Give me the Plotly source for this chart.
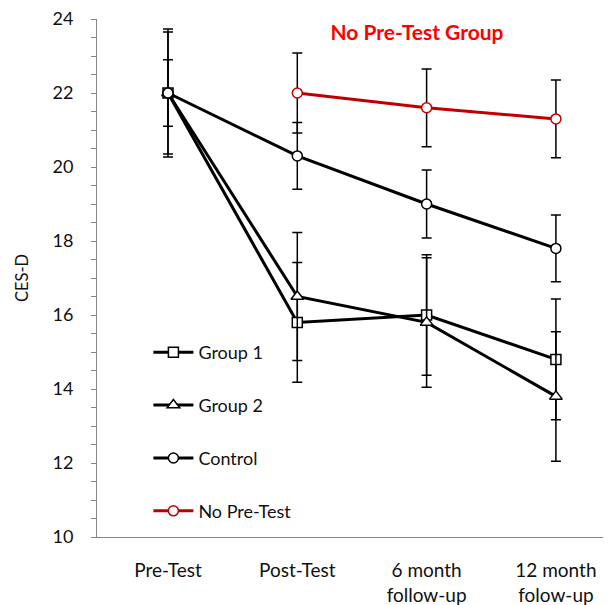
import plotly.graph_objects as go

categories = ["Pre-Test", "Post-Test", "6 month<br>follow-up", "12 month<br>folow-up"]
x_pos = [0, 1, 2, 3]

group1 = [22.0, 15.8, 16.0, 14.8]
group1_err = [1.65, 1.62, 1.63, 1.63]
group2 = [22.0, 16.5, 15.8, 13.8]
group2_err = [1.73, 1.73, 1.75, 1.75]
control = [22.0, 20.3, 19.0, 17.8]
control_err = [0.9, 0.9, 0.92, 0.9]
no_pre = [None, 22.0, 21.6, 21.3]
no_pre_err = [0, 1.08, 1.05, 1.05]

FONT = "Lato"
RED = "#C00000"
TXT = "#111111"

fig = go.Figure()

def add(name, y, err, symbol, size, color, grp):
    fig.add_trace(go.Scatter(
        x=x_pos, y=y, name=name, mode="lines+markers",
        legendgroup=grp,
        line=dict(color=color, width=3),
        marker=dict(symbol=symbol, size=size, color="white",
                    line=dict(color=color, width=1.5)),
        error_y=dict(type="data", array=err, visible=True,
                     color="black", thickness=1.5, width=5),
    ))

add("Group 1", group1, group1_err, "square", 10, "black", "g1")
add("Group 2", group2, group2_err, "triangle-up", 11, "black", "g2")
add("Control", control, control_err, "circle", 10, "black", "g3")
add("No Pre-Test", no_pre, no_pre_err, "circle", 10, RED, "g4")

fig.update_layout(
    width=611, height=605,
    margin=dict(l=89, r=8, t=11, b=76),
    paper_bgcolor="white", plot_bgcolor="white",
    font=dict(family=FONT, size=18, color=TXT),
    title=dict(text="<b>No Pre-Test Group</b>", font=dict(family=FONT, size=21, color="#FF0000"),
               x=409/611, xanchor="center", y=1-25/605, yanchor="middle"),
    showlegend=True,
    legend=dict(x=0.1, y=0.392, xanchor="left", yanchor="top", itemwidth=40,
                bgcolor="rgba(0,0,0,0)", tracegroupgap=26.5,
                font=dict(family=FONT, size=18, color=TXT)),
    xaxis=dict(range=[-0.549, 3.426], tickmode="array", tickvals=x_pos, ticktext=categories,
               automargin=False,
               showgrid=False, zeroline=False, showline=True, linecolor="#868686", linewidth=1,
               ticks="", ticklabelstandoff=16, tickfont=dict(family=FONT, size=19, color=TXT)),
    yaxis=dict(range=[10, 24], dtick=2, showgrid=False, zeroline=False,
               automargin=False,
               showline=True, linecolor="#868686", linewidth=1,
               ticks="outside", ticklen=5, tickcolor="#868686", ticklabelstandoff=14,
               ticklabeloverflow="allow",
               minor=dict(dtick=0.5, ticks="outside", ticklen=5, tickcolor="#868686"),
               title=dict(text="CES-D", font=dict(family=FONT, size=16.5, color=TXT), standoff=19),
               tickfont=dict(family=FONT, size=18, color=TXT)),
)

fig.write_html("out.html")
